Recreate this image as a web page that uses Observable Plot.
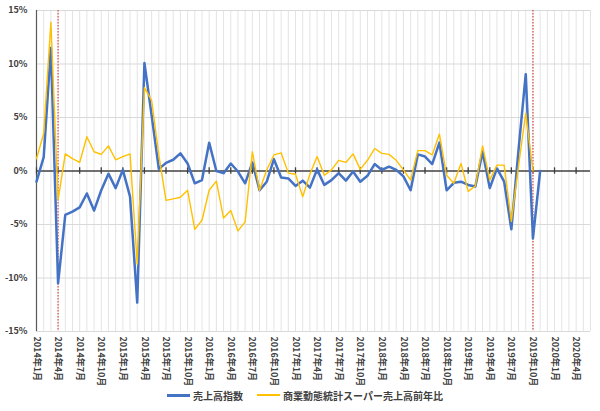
<!DOCTYPE html>
<html><head><meta charset="utf-8">
<script src="https://cdn.jsdelivr.net/npm/d3@7"></script>
<script src="https://cdn.jsdelivr.net/npm/@observablehq/plot@0.6"></script>
<style>
body{margin:0;background:#fff;font-family:"Noto Sans CJK JP",sans-serif;}
#legend{display:flex;justify-content:center;align-items:center;gap:14px;height:20px;font-size:10px;font-weight:bold;color:#404040;padding-left:10px}
.item{display:flex;align-items:center;gap:3px}
.sw{display:inline-block;width:23px;height:0;border-top-style:solid}
</style></head><body>
<div id="chart"></div>
<div id="legend"></div>
<script>
const tickLabels = ["2014年1月","2014年4月","2014年7月","2014年10月","2015年1月","2015年4月","2015年7月","2015年10月",
"2016年1月","2016年4月","2016年7月","2016年10月","2017年1月","2017年4月","2017年7月","2017年10月",
"2018年1月","2018年4月","2018年7月","2018年10月","2019年1月","2019年4月","2019年7月","2019年10月","2020年1月","2020年4月"];
const seriesNames = ["売上高指数","商業動態統計スーパー売上高前年比"];
// monthly values from 2014年1月
const salesIndex = [-1.0,1.3,11.5,-10.5,-4.1,-3.8,-3.4,-2.1,-3.7,-1.8,-0.25,-1.6,
0.1,-2.4,-12.3,10.1,5.2,0.2,0.75,1.05,1.65,0.7,-1.15,-0.85,
2.65,0,-0.2,0.7,-0.05,-1.15,0.8,-1.8,-1.0,1.1,-0.6,-0.7,
-1.4,-0.9,-1.55,0.15,-1.3,-0.85,-0.2,-0.9,-0.05,-1.0,-0.45,0.65,
0.1,0.4,0.1,-0.5,-1.8,1.55,1.35,0.65,2.65,-1.8,-1.1,-1.0,
-1.3,-1.45,1.8,-1.6,0.25,-1.0,-5.45,2.0,9.05,-6.3,0];
const superYoY = [1.15,3.5,13.9,-2.7,1.6,1.15,0.8,3.2,1.8,1.55,2.35,1.05,
1.35,1.6,-8.7,7.8,6.6,1.5,-2.75,-2.6,-2.45,-1.8,-5.45,-4.6,
-1.8,-0.95,-4.4,-3.7,-5.6,-4.75,1.8,-1.8,0.1,1.5,1.7,-0.2,
-0.3,-2.4,-0.3,1.35,-0.4,0.1,1.0,0.8,1.6,0.15,1.0,2.1,
1.65,1.55,1.0,0.1,-0.85,1.9,1.9,1.5,3.45,-0.4,-1.15,0.7,
-1.9,-1.4,2.35,-0.85,0.55,0.55,-4.7,0.5,5.4,0.0];
const markerLabels = ["2014年4月","2019年10月"];
const yTicks = [-15,-10,-5,0,5,10,15];
const colors = ["#4472C4","#FFC000"];

const tickIdx = tickLabels.map((_, k) => k * 3);
const markerIdx = markerLabels.map(l => tickLabels.indexOf(l) * 3);
const gridMonths = d3.range(0, 78);
const font = '"Noto Sans CJK JP", sans-serif';

const chart = Plot.plot({
  width: 600, height: 385,
  marginLeft: 36, marginRight: 10, marginTop: 10, marginBottom: 54,
  x: {domain: [0, 77]},
  y: {domain: [-15, 15]},
  style: {fontFamily: font, fontSize: "9px", fontWeight: "bold", color: "#404040", background: "#fff"},
  marks: [
    Plot.ruleX(gridMonths, {stroke: "#e4e4e4", strokeWidth: 1}),
    Plot.ruleY(yTicks.filter(d => d !== 0), {stroke: "#d9d9d9", strokeWidth: 1}),
    Plot.axisY({ticks: yTicks, tickFormat: d => d + "%", tickSize: 0, tickPadding: 9}),
    Plot.axisX({ticks: tickIdx, tickFormat: d => tickLabels[d / 3], tickRotate: 90, tickSize: 0, tickPadding: 5}),
    Plot.ruleX([0], {stroke: "#595959", strokeWidth: 1.2}),
    Plot.ruleY([0], {stroke: "#404040", strokeWidth: 1.5}),
    Plot.ruleX(tickIdx, {y1: -0.3, y2: 0.3, stroke: "#404040", strokeWidth: 1.3}),
    Plot.ruleX(markerIdx, {stroke: "#E06B6B", strokeWidth: 1.5, strokeDasharray: "1.5,1.5"}),
    Plot.lineY(salesIndex, {x: (d, i) => i, y: d => d, stroke: colors[0], strokeWidth: 2.5}),
    Plot.lineY(superYoY, {x: (d, i) => i, y: d => d, stroke: colors[1], strokeWidth: 1.4})
  ]
});
document.getElementById("chart").appendChild(chart);

const legend = document.getElementById("legend");
seriesNames.forEach((name, k) => {
  const item = document.createElement("div");
  item.className = "item";
  const sw = document.createElement("span");
  sw.className = "sw";
  sw.style.borderTopColor = colors[k];
  sw.style.borderTopWidth = k === 0 ? "3px" : "2px";
  const t = document.createElement("span");
  t.textContent = name;
  item.appendChild(sw); item.appendChild(t);
  legend.appendChild(item);
});
</script>
</body></html>
